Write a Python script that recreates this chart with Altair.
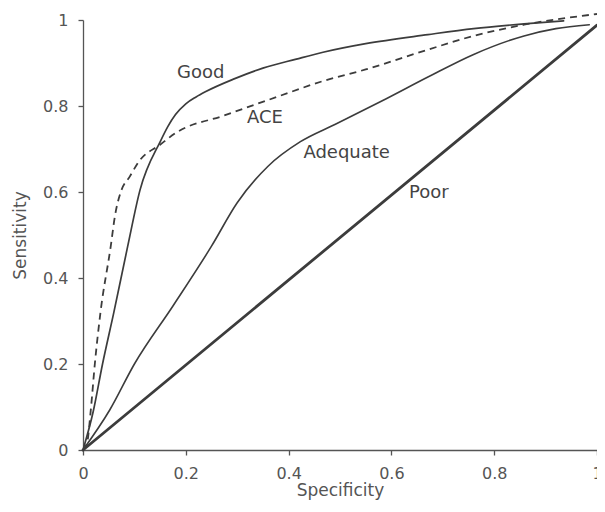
import altair as alt
import pandas as pd

# Curve data (specificity on x, sensitivity on y)
good_x = [0, 0.02, 0.038, 0.06, 0.087, 0.111, 0.151, 0.165, 0.18, 0.2, 0.22, 0.238, 0.294, 0.35, 0.415, 0.467, 0.55, 0.671, 0.76, 0.858, 0.935]
good_y = [0, 0.09, 0.2, 0.32, 0.474, 0.605, 0.719, 0.752, 0.78, 0.805, 0.821, 0.833, 0.863, 0.888, 0.909, 0.925, 0.945, 0.966, 0.98, 0.991, 0.998]

ace_x = [0, 0.008, 0.015, 0.023, 0.034, 0.054, 0.062, 0.075, 0.09, 0.11, 0.15, 0.18, 0.275, 0.377, 0.467, 0.55, 0.671, 0.76, 0.858, 1.0]
ace_y = [0, 0.017, 0.091, 0.2, 0.32, 0.474, 0.543, 0.605, 0.634, 0.673, 0.71, 0.737, 0.778, 0.821, 0.858, 0.885, 0.931, 0.963, 0.989, 1.014]

adequate_x = [0, 0.052, 0.1, 0.175, 0.25, 0.3, 0.36, 0.423, 0.49, 0.59, 0.672, 0.76, 0.858, 0.92, 0.985]
adequate_y = [0, 0.093, 0.2, 0.335, 0.474, 0.575, 0.66, 0.717, 0.757, 0.817, 0.868, 0.92, 0.963, 0.98, 0.989]

poor_x = [0, 1.0]
poor_y = [0, 0.988]

label_text = ["Good", "ACE", "Adequate", "Poor"]
label_x = [0.229, 0.354, 0.513, 0.673]
label_y = [0.876, 0.771, 0.691, 0.598]

FONT = "DejaVu Sans"
INK = "#3c3c3c"
AX = "#555"

W, H = 514, 430


def frame(xs, ys):
    return pd.DataFrame({"x": xs, "y": ys, "i": list(range(len(xs)))})


xscale = alt.Scale(domain=[0, 1], nice=False, zero=False)
yscale = alt.Scale(domain=[0, 1], nice=False, zero=False)

xaxis = alt.Axis(
    title="Specificity", values=[0, 0.2, 0.4, 0.6, 0.8, 1], format="~g",
    grid=False, domainColor=AX, domainWidth=1.3, tickColor=AX, tickWidth=1.3,
    tickSize=5, labelPadding=10, labelFont=FONT, labelFontSize=16, labelColor=AX,
    titleFont=FONT, titleFontSize=17, titleFontWeight="normal", titleColor=AX,
    titleBaseline="alphabetic", titleY=45, labelFlush=False, labelOverlap=False,
)
yaxis = alt.Axis(
    title="Sensitivity", values=[0, 0.2, 0.4, 0.6, 0.8, 1], format="~g",
    grid=False, domainColor=AX, domainWidth=1.3, tickColor=AX, tickWidth=1.3,
    tickSize=5, labelPadding=10, labelFont=FONT, labelFontSize=16, labelColor=AX,
    titleFont=FONT, titleFontSize=17, titleFontWeight="normal", titleColor=AX,
    titleAngle=270, titleBaseline="alphabetic", titleAlign="center",
    titleX=-58, titleY=H / 2, labelFlush=False, labelOverlap=False,
)


def line(xs, ys, width, dash=None, axes=False):
    kw = dict(color=INK, strokeWidth=width, clip=False, strokeCap="round",
              interpolate="monotone")
    if dash:
        kw["strokeDash"] = dash
        kw["strokeCap"] = "butt"
    m = alt.Chart(frame(xs, ys)).mark_line(**kw)
    if axes:
        return m.encode(
            x=alt.X("x:Q", scale=xscale, axis=xaxis),
            y=alt.Y("y:Q", scale=yscale, axis=yaxis),
            order="i:O",
        )
    return m.encode(
        x=alt.X("x:Q", scale=xscale),
        y=alt.Y("y:Q", scale=yscale),
        order="i:O",
    )


poor = line(poor_x, poor_y, 2.8, axes=True)
adequate = line(adequate_x, adequate_y, 1.6)
good = line(good_x, good_y, 1.7)
ace = line(ace_x, ace_y, 1.8, dash=[7, 5])

labels = alt.Chart(pd.DataFrame({"t": label_text, "x": label_x, "y": label_y})).mark_text(
    font=FONT, fontSize=18, color="#444", align="center", baseline="middle"
).encode(
    x=alt.X("x:Q", scale=xscale),
    y=alt.Y("y:Q", scale=yscale),
    text="t:N",
)

chart = alt.layer(poor, adequate, good, ace, labels).properties(
    width=W, height=H,
    autosize=alt.AutoSizeParams(type="none"),
    padding={"left": 75, "top": 12, "right": 0, "bottom": 50},
    background="white",
).configure_view(stroke=None)

chart.save("out.html", embed_options={"renderer": "svg", "actions": False})
